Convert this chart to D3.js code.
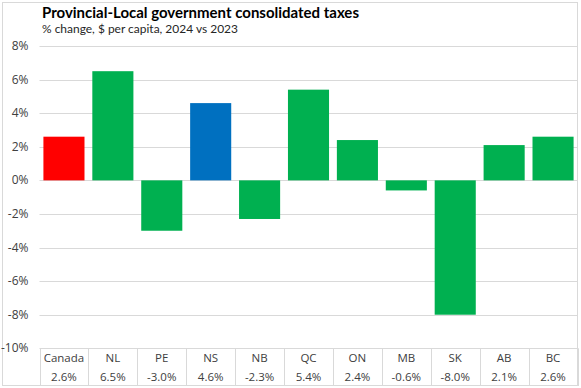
<!DOCTYPE html>
<html>
<head>
<meta charset="utf-8">
<style>
  body { margin: 0; background: #fff; }
  svg { display: block; font-family: "Open Sans", "Noto Sans", sans-serif; }
</style>
</head>
<body>
<div id="container"></div>
<script src="https://cdn.jsdelivr.net/npm/d3@7"></script>
<script>
// chart data
const categories = ["Canada", "NL", "PE", "NS", "NB", "QC", "ON", "MB", "SK", "AB", "BC"];
const values = [2.6, 6.5, -3.0, 4.6, -2.3, 5.4, 2.4, -0.6, -8.0, 2.1, 2.6];
const valueLabels = ["2.6%", "6.5%", "-3.0%", "4.6%", "-2.3%", "5.4%", "2.4%", "-0.6%", "-8.0%", "2.1%", "2.6%"];
const yTicks = [-10, -8, -6, -4, -2, 0, 2, 4, 6, 8];

const W = 581, H = 388;
const plotLeft = 39.5, plotRight = 577.5, plotTop = 46, plotBottom = 348.3;

const svg = d3.select("#container").append("svg")
    .attr("width", W)
    .attr("height", H);

// outer border
svg.append("rect")
    .attr("x", 2.5).attr("y", 2.5)
    .attr("width", plotRight - 2.5).attr("height", 383)
    .attr("fill", "none")
    .attr("stroke", "#d9d9d9");

// title + subtitle, shrunk to the reference widths
function fitText(sel, target) {
    const w = sel.node().getComputedTextLength();
    const fs = +sel.attr("font-size");
    if (w > target) sel.attr("font-size", (fs * target / w).toFixed(2));
}
const title = svg.append("text")
    .attr("x", 42).attr("y", 17.5)
    .attr("font-family", "Lato, sans-serif")
    .attr("font-size", 16.5).attr("font-weight", "bold")
    .attr("fill", "#000")
    .text("Provincial-Local government consolidated taxes");
fitText(title, 317);
const sub = svg.append("text")
    .attr("x", 42).attr("y", 32.5)
    .attr("font-family", "Lato, sans-serif")
    .attr("font-size", 13).attr("fill", "#262626")
    .text("% change, $ per capita, 2024 vs 2023");
fitText(sub, 196);

const x = d3.scaleBand()
    .domain(categories)
    .range([plotLeft, plotRight])
    .paddingInner(0.16)
    .paddingOuter(0.08);

const y = d3.scaleLinear()
    .domain([-10, 8])
    .range([plotBottom, plotTop]);

// gridlines
svg.append("g")
    .selectAll("line")
    .data(yTicks)
    .join("line")
    .attr("x1", plotLeft).attr("x2", plotRight)
    .attr("y1", d => Math.round(y(d)) + 0.5)
    .attr("y2", d => Math.round(y(d)) + 0.5)
    .attr("stroke", "#d9d9d9");

// y tick labels
svg.append("g")
    .selectAll("text")
    .data(yTicks)
    .join("text")
    .attr("x", 28.5)
    .attr("y", d => y(d) + 4)
    .attr("text-anchor", "end")
    .attr("font-size", 12)
    .attr("fill", "#404040")
    .text(d => d + "%");

// bars
const colorFor = c => c === "Canada" ? "#ff0000" : (c === "NS" ? "#0070c0" : "#00b050");
svg.append("g")
    .selectAll("rect")
    .data(categories)
    .join("rect")
    .attr("x", c => x(c))
    .attr("width", x.bandwidth())
    .attr("y", (c, i) => y(Math.max(0, values[i])))
    .attr("height", (c, i) => Math.abs(y(values[i]) - y(0)))
    .attr("fill", c => colorFor(c));

// data table below the axis
const tbl = svg.append("g");
const step = x.step();
const bounds = d3.range(categories.length + 1).map(i => plotLeft + i * step);
tbl.selectAll("line.sep")
    .data(bounds)
    .join("line")
    .attr("class", "sep")
    .attr("x1", d => Math.round(d) + 0.5).attr("x2", d => Math.round(d) + 0.5)
    .attr("y1", plotBottom).attr("y2", 386)
    .attr("stroke", "#d9d9d9");

tbl.selectAll("text.cat")
    .data(categories)
    .join("text")
    .attr("class", "cat")
    .attr("x", c => x(c) + x.bandwidth() / 2)
    .attr("y", 361.5)
    .attr("text-anchor", "middle")
    .attr("font-size", 11.5)
    .attr("fill", "#404040")
    .text(c => c);

tbl.selectAll("text.val")
    .data(valueLabels)
    .join("text")
    .attr("class", "val")
    .attr("x", (v, i) => x(categories[i]) + x.bandwidth() / 2)
    .attr("y", 381)
    .attr("text-anchor", "middle")
    .attr("font-size", 11.5)
    .attr("fill", "#404040")
    .text(v => v);
</script>
</body>
</html>
